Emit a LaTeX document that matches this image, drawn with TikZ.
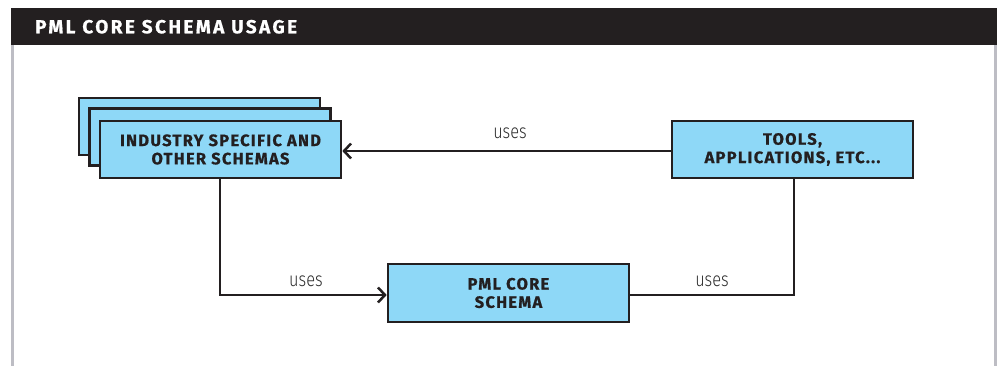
\documentclass[tikz,border=0pt]{standalone}
\usepackage{fontspec}
\setmainfont{Fira Sans}
\newfontfamily\titlefont[LetterSpace=13,FakeBold=0.8]{Fira Sans}
\newfontfamily\boxfont[LetterSpace=8,FakeBold=0.8]{Fira Sans}
\newfontfamily\lblfont[FakeStretch=0.82]{Fira Sans Light}
\usetikzlibrary{arrows.meta}
\definecolor{ink}{HTML}{231F20}
\definecolor{lbltext}{HTML}{2E2E2E}
\definecolor{boxblue}{HTML}{8ED8F7}
\definecolor{sidegray}{HTML}{BDBDC4}
\begin{document}
\begin{tikzpicture}[x=1pt,y=-1pt,
 box/.style={draw=ink, line width=2.6pt, fill=boxblue, minimum width=241pt, minimum height=57pt, inner sep=0pt, align=center, font=\boxfont\bfseries\fontsize{16.4}{18.3}\selectfont, text=ink},
 conn/.style={draw=ink, line width=2.5pt},
 arr/.style={conn, -{Straight Barb[length=7pt,width=15pt,line width=2.5pt]}},
 lbl/.style={font=\lblfont\fontsize{20}{22}\selectfont, text=lbltext, inner sep=0pt}]
\useasboundingbox (0,0) rectangle (997,366);
\fill[ink] (11,8) rectangle (997,45);
\node[anchor=base west, text=white, inner sep=0pt, font=\titlefont\bfseries\fontsize{18.9}{20}\selectfont] (title) at (35,33.3) {PML CORE SCHEMA USAGE};
\fill[sidegray] (11,45) rectangle (14,366);
\fill[sidegray] (994,45) rectangle (997,366);
\node[box] (back) at (199.5,126.5) {};
\node[box] (mid) at (210,137) {};
\node[box] (ind) at (220.5,149.5) {INDUSTRY SPECIFIC AND\\OTHER SCHEMAS};
\node[box] (tools) at (792.5,149.5) {TOOLS,\\APPLICATIONS, ETC...};
\node[box, minimum height=58pt] (pml) at (508.5,293) {PML CORE\\SCHEMA};
\coordinate (bendL) at (220,295);
\coordinate (bendR) at (794,295);
\draw[arr] (tools.west |- 0,151) -- (ind.east |- 0,151);
\draw[arr] (ind.south -| bendL) -- (bendL) -- (pml.west |- bendL);
\draw[conn] (tools.south -| bendR) -- (bendR) -- (pml.east |- bendR);
\node[lbl, anchor=base] (u1) at (510,139) {uses};
\node[lbl, anchor=base] (u2) at (306,286.3) {uses};
\node[lbl, anchor=base] (u3) at (712,286.3) {uses};
\end{tikzpicture}
\end{document}
